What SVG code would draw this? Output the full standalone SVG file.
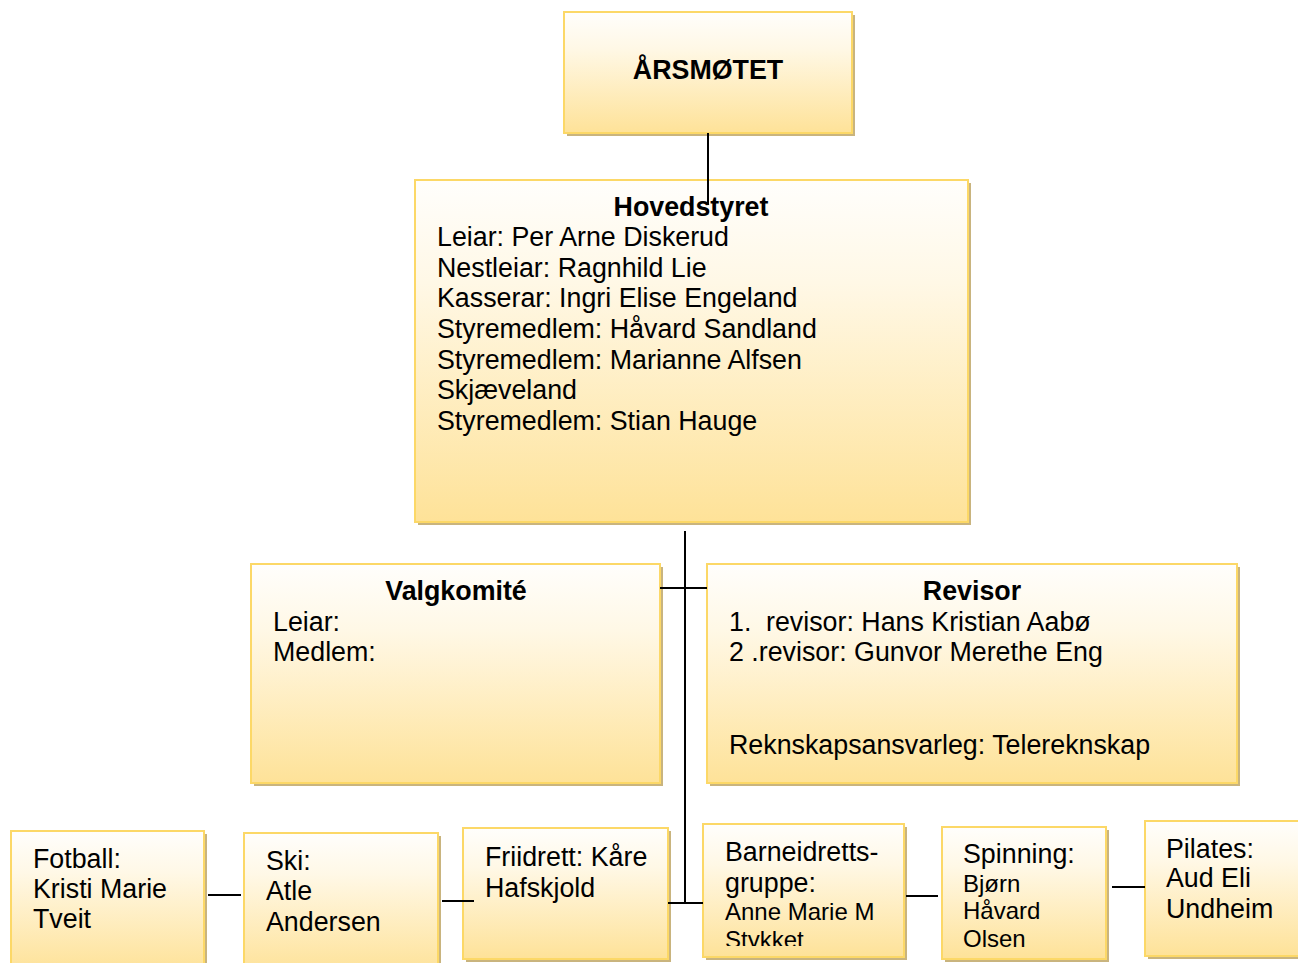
<svg xmlns="http://www.w3.org/2000/svg" width="1298" height="963" viewBox="0 0 1298 963">
<defs>
<linearGradient id="g" x1="0" y1="0" x2="0" y2="1">
<stop offset="0" stop-color="#fffefc"/>
<stop offset="0.3" stop-color="#fff8e6"/>
<stop offset="1" stop-color="#fee298"/>
</linearGradient>
<clipPath id="clipB"><rect x="703" y="824" width="201" height="122"/></clipPath>
</defs>
<style>
.sh{fill:#c9b47e}
.bx{fill:url(#g);stroke:#fcd867;stroke-width:2}
.t{font-family:"Liberation Sans",Arial,sans-serif;font-size:26.8px;fill:#000}
.s{font-size:24px}
.b{font-weight:bold}
.c{text-anchor:middle}
.ln{stroke:#000;stroke-width:2;fill:none}
</style>
<g id="arsmotet">
<rect class="sh" x="567" y="15" width="288" height="121"/>
<rect class="bx" x="564" y="12" width="288" height="121"/>
<text class="t b c" x="708" y="79">ÅRSMØTET</text>
</g>
<g id="hovedstyret">
<rect class="sh" x="418" y="183" width="553" height="342"/>
<rect class="bx" x="415" y="180" width="553" height="342"/>
<text class="t b c" x="691" y="216">Hovedstyret</text>
<text class="t" x="437" y="246">Leiar: Per Arne Diskerud</text>
<text class="t" x="437" y="277">Nestleiar: Ragnhild Lie</text>
<text class="t" x="437" y="307">Kasserar: Ingri Elise Engeland</text>
<text class="t" x="437" y="338">Styremedlem: Håvard Sandland</text>
<text class="t" x="437" y="369">Styremedlem: Marianne Alfsen</text>
<text class="t" x="437" y="399">Skjæveland</text>
<text class="t" x="437" y="430">Styremedlem: Stian Hauge</text>
</g>
<g id="valgkomite">
<rect class="sh" x="254" y="567" width="409" height="219"/>
<rect class="bx" x="251" y="564" width="409" height="219"/>
<text class="t b c" x="456" y="600">Valgkomité</text>
<text class="t" x="273" y="631">Leiar:</text>
<text class="t" x="273" y="661">Medlem:</text>
</g>
<g id="revisor">
<rect class="sh" x="710" y="567" width="530" height="219"/>
<rect class="bx" x="707" y="564" width="530" height="219"/>
<text class="t b c" x="972" y="600">Revisor</text>
<text class="t" x="729" y="631">1.</text>
<text class="t" x="766" y="631">revisor: Hans Kristian Aabø</text>
<text class="t" x="729" y="661">2 .revisor: Gunvor Merethe Eng</text>
<text class="t" x="729" y="754">Reknskapsansvarleg: Telereknskap</text>
</g>
<g id="fotball">
<rect class="sh" x="14" y="834" width="193" height="140"/>
<rect class="bx" x="11" y="831" width="193" height="140"/>
<text class="t" x="33" y="868">Fotball:</text>
<text class="t" x="33" y="898">Kristi Marie</text>
<text class="t" x="33" y="928">Tveit</text>
</g>
<g id="ski">
<rect class="sh" x="247" y="836" width="194" height="140"/>
<rect class="bx" x="244" y="833" width="194" height="140"/>
<text class="t" x="266" y="870">Ski:</text>
<text class="t" x="266" y="900">Atle</text>
<text class="t" x="266" y="931">Andersen</text>
</g>
<g id="friidrett">
<rect class="sh" x="466" y="831" width="205" height="131"/>
<rect class="bx" x="463" y="828" width="205" height="131"/>
<text class="t" x="485" y="866">Friidrett: Kåre</text>
<text class="t" x="485" y="897">Hafskjold</text>
</g>
<g id="barneidrett">
<rect class="sh" x="706" y="827" width="201" height="133"/>
<rect class="bx" x="703" y="824" width="201" height="133"/>
<g clip-path="url(#clipB)">
<text class="t" x="725" y="861">Barneidretts-</text>
<text class="t" x="725" y="892">gruppe:</text>
<text class="t s" x="725" y="920">Anne Marie M</text>
<text class="t s" x="725" y="948">Stykket</text>
</g>
</g>
<g id="spinning">
<rect class="sh" x="945" y="830" width="164" height="132"/>
<rect class="bx" x="942" y="827" width="164" height="132"/>
<text class="t" x="963" y="863">Spinning:</text>
<text class="t s" x="963" y="892">Bjørn</text>
<text class="t s" x="963" y="919">Håvard</text>
<text class="t s" x="963" y="947">Olsen</text>
</g>
<g id="pilates">
<rect class="sh" x="1148" y="824" width="165" height="135"/>
<rect class="bx" x="1145" y="821" width="165" height="135"/>
<text class="t" x="1166" y="858">Pilates:</text>
<text class="t" x="1166" y="887">Aud Eli</text>
<text class="t" x="1166" y="918">Undheim</text>
</g>
<g id="connectors">
<line class="ln" x1="708" y1="133" x2="708" y2="205"/>
<line class="ln" x1="685" y1="531" x2="685" y2="904"/>
<line class="ln" x1="660" y1="588" x2="707" y2="588"/>
<line class="ln" x1="668" y1="903" x2="703" y2="903"/>
<line class="ln" x1="208" y1="895" x2="241" y2="895"/>
<line class="ln" x1="442" y1="901" x2="474" y2="901"/>
<line class="ln" x1="906" y1="896" x2="938" y2="896"/>
<line class="ln" x1="1112" y1="887" x2="1145" y2="887"/>
</g>
</svg>
